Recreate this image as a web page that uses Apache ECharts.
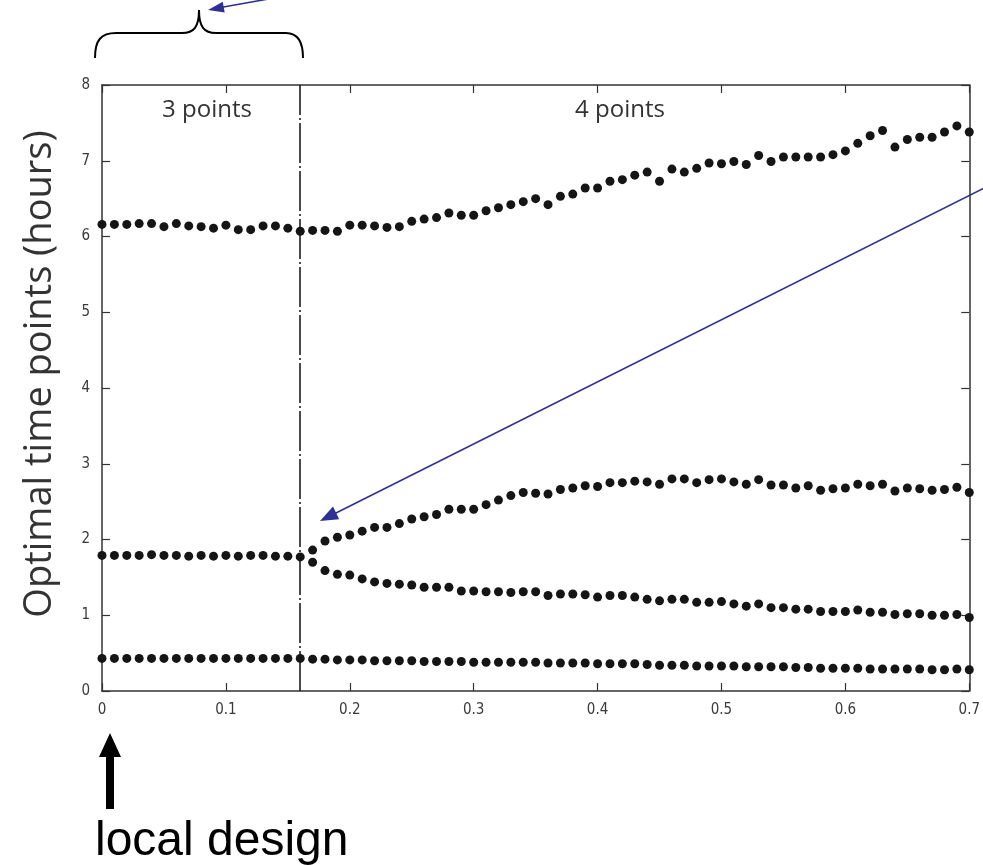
<!DOCTYPE html>
<html>
<head>
<meta charset="utf-8">
<script src="https://cdn.jsdelivr.net/npm/echarts@6/dist/echarts.min.js"></script>
<style>
html,body{margin:0;padding:0;background:#fff;}
#chart{width:983px;height:865px;}
</style>
</head>
<body>
<div id="chart"></div>
<script>
// x positions (fraction)
var xValues = [0,0.01,0.02,0.03,0.04,0.05,0.06,0.07,0.08,0.09,
  0.10,0.11,0.12,0.13,0.14,0.15,0.16,0.17,0.18,0.19,
  0.20,0.21,0.22,0.23,0.24,0.25,0.26,0.27,0.28,0.29,
  0.30,0.31,0.32,0.33,0.34,0.35,0.36,0.37,0.38,0.39,
  0.40,0.41,0.42,0.43,0.44,0.45,0.46,0.47,0.48,0.49,
  0.50,0.51,0.52,0.53,0.54,0.55,0.56,0.57,0.58,0.59,
  0.60,0.61,0.62,0.63,0.64,0.65,0.66,0.67,0.68,0.69,0.70];

// highest time point (hours)
var topSeries = [6.16,6.16,6.16,6.17,6.17,6.13,6.17,6.14,6.13,6.11,
  6.15,6.09,6.09,6.14,6.14,6.11,6.07,6.08,6.08,6.07,
  6.15,6.15,6.14,6.12,6.13,6.20,6.23,6.25,6.31,6.28,
  6.28,6.34,6.38,6.42,6.46,6.50,6.42,6.53,6.56,6.64,
  6.64,6.73,6.75,6.81,6.85,6.73,6.89,6.85,6.90,6.97,
  6.96,6.99,6.95,7.07,6.99,7.05,7.05,7.05,7.05,7.08,
  7.13,7.23,7.33,7.40,7.18,7.28,7.31,7.31,7.38,7.46,7.38];

// middle point, then upper branch after the split
var midUpperSeries = [1.79,1.79,1.79,1.79,1.80,1.79,1.79,1.78,1.79,1.78,
  1.79,1.78,1.79,1.79,1.78,1.78,1.77,1.86,1.98,2.03,
  2.06,2.11,2.16,2.16,2.21,2.27,2.30,2.33,2.40,2.40,
  2.40,2.46,2.52,2.58,2.62,2.61,2.60,2.66,2.68,2.71,
  2.70,2.75,2.75,2.77,2.76,2.73,2.80,2.80,2.75,2.79,
  2.80,2.76,2.73,2.79,2.72,2.72,2.68,2.71,2.65,2.67,
  2.68,2.73,2.71,2.73,2.64,2.68,2.67,2.65,2.66,2.69,2.62];

// lower branch (only exists with 4 points)
var midLowerSeries = [null,null,null,null,null,null,null,null,null,null,
  null,null,null,null,null,null,null,1.70,1.59,1.54,
  1.53,1.48,1.44,1.42,1.41,1.40,1.37,1.37,1.37,1.32,
  1.32,1.31,1.31,1.30,1.31,1.31,1.26,1.28,1.28,1.27,
  1.24,1.26,1.26,1.24,1.21,1.19,1.21,1.21,1.17,1.17,
  1.18,1.15,1.12,1.15,1.10,1.10,1.08,1.08,1.05,1.05,
  1.05,1.07,1.04,1.04,1.01,1.02,1.02,1.00,1.00,1.01,0.97];

// earliest time point
var bottomSeries = [0.43,0.43,0.43,0.43,0.43,0.43,0.43,0.43,0.43,0.43,
  0.43,0.43,0.43,0.43,0.43,0.43,0.43,0.42,0.42,0.41,
  0.41,0.41,0.40,0.40,0.40,0.40,0.39,0.39,0.39,0.39,
  0.38,0.38,0.38,0.38,0.38,0.38,0.37,0.37,0.37,0.37,
  0.36,0.36,0.36,0.36,0.35,0.34,0.34,0.34,0.33,0.33,
  0.33,0.33,0.32,0.32,0.32,0.32,0.31,0.31,0.30,0.30,
  0.30,0.30,0.29,0.29,0.29,0.29,0.29,0.28,0.28,0.29,0.28];

var xTickLabels = ['0','0.1','0.2','0.3','0.4','0.5','0.6','0.7'];
var yTickLabels = ['0','1','2','3','4','5','6','7','8'];
var switchPoint = [0.1645];
var regionLabels = ['3 points','4 points'];
var yTitle = 'Optimal time points (hours)';
var bottomNote = 'local design';

function pairs(vals){
  var out = [];
  for (var i = 0; i < xValues.length; i++) {
    if (vals[i] !== null) out.push([xValues[i], vals[i]]);
  }
  return out;
}

var axisColor = '#333';
var tickFont = {fontFamily:'Liberation Sans Narrow, DejaVu Sans Condensed, sans-serif', fontSize:15, color:'#3a3a3a'};
var dotStyle = {color:'#151515', opacity:1};
var blue = '#2f3192';
var braceStyle = {fill:null, stroke:'#000', lineWidth:2};

var chart = echarts.init(document.getElementById('chart'), null, {renderer:'canvas'});

chart.setOption({
  animation:false,
  backgroundColor:'#fff',
  grid:{left:102, right:12, top:85, bottom:174},
  xAxis:[{
    type:'value', min:0, max:0.7, interval:0.1, position:'bottom',
    axisLine:{show:true, onZero:false, lineStyle:{color:axisColor, width:1.5}},
    axisTick:{show:true, inside:true, length:8, lineStyle:{color:axisColor, width:1.2}},
    axisLabel:Object.assign({margin:12, formatter:function(v){return xTickLabels[Math.round(v*10)];}}, tickFont),
    splitLine:{show:false}
  },{
    type:'value', min:0, max:0.7, interval:0.1, position:'top',
    axisLine:{show:true, onZero:false, lineStyle:{color:axisColor, width:1.5}},
    axisTick:{show:true, inside:true, length:8, lineStyle:{color:axisColor, width:1.2}},
    axisLabel:{show:false}, splitLine:{show:false}
  }],
  yAxis:[{
    type:'value', min:0, max:8, interval:1, position:'left',
    axisLine:{show:true, onZero:false, lineStyle:{color:axisColor, width:1.5}},
    axisTick:{show:true, inside:true, length:8, lineStyle:{color:axisColor, width:1.2}},
    axisLabel:Object.assign({margin:12, formatter:function(v){return yTickLabels[Math.round(v)];}}, tickFont),
    splitLine:{show:false}
  },{
    type:'value', min:0, max:8, interval:1, position:'right',
    axisLine:{show:true, onZero:false, lineStyle:{color:axisColor, width:1.5}},
    axisTick:{show:true, inside:true, length:8, lineStyle:{color:axisColor, width:1.2}},
    axisLabel:{show:false}, splitLine:{show:false}
  }],
  series:[
    {type:'scatter', name:'t4', data:pairs(topSeries), symbolSize:9, itemStyle:dotStyle, clip:false, z:3,
      markLine:{silent:true, symbol:['none','none'], label:{show:false}, z:2,
        lineStyle:{color:'#111', width:1.5, type:[40,3,2,3], opacity:1},
        data:[{xAxis:switchPoint[0]}]}},
    {type:'scatter', name:'t3', data:pairs(midUpperSeries), symbolSize:9, itemStyle:dotStyle, clip:false, z:3},
    {type:'scatter', name:'t2', data:pairs(midLowerSeries), symbolSize:9, itemStyle:dotStyle, clip:false, z:3},
    {type:'scatter', name:'t1', data:pairs(bottomSeries), symbolSize:9, itemStyle:dotStyle, clip:false, z:3}
  ],
  graphic:[
    {type:'text', x:207, y:110, style:{text:regionLabels[0], font:'24px "Open Sans", "Noto Sans", sans-serif', fill:'#333', align:'center', verticalAlign:'middle'}},
    {type:'text', x:620, y:110, style:{text:regionLabels[1], font:'24px "Open Sans", "Noto Sans", sans-serif', fill:'#333', align:'center', verticalAlign:'middle'}},
    {type:'text', x:40, y:374, rotation:Math.PI/2, style:{text:yTitle, font:'38px "Open Sans", "Noto Sans", sans-serif', fill:'#333', align:'center', verticalAlign:'middle'}},
    {type:'text', x:95, y:842, style:{text:bottomNote, font:'48px "Liberation Sans", Arial, sans-serif', fill:'#000', align:'left', verticalAlign:'middle'}},
    {type:'bezierCurve', shape:{x1:95, y1:58, cpx1:95, cpy1:40, cpx2:101, cpy2:33, x2:116, y2:33}, style:braceStyle},
    {type:'line', shape:{x1:116, y1:33, x2:182, y2:33}, style:braceStyle},
    {type:'bezierCurve', shape:{x1:182, y1:33, cpx1:194, cpy1:33, cpx2:199, cpy2:27, x2:199, y2:10}, style:braceStyle},
    {type:'bezierCurve', shape:{x1:199, y1:10, cpx1:199, cpy1:27, cpx2:204, cpy2:33, x2:216, y2:33}, style:braceStyle},
    {type:'line', shape:{x1:216, y1:33, x2:286, y2:33}, style:braceStyle},
    {type:'bezierCurve', shape:{x1:286, y1:33, cpx1:297, cpy1:33, cpx2:303, cpy2:40, x2:303, y2:58}, style:braceStyle},
    {type:'line', shape:{x1:222, y1:7.3, x2:300, y2:-6.7}, style:{stroke:blue, lineWidth:1.6}},
    {type:'polygon', shape:{points:[[208,10],[224.7,12.6],[222.7,1.8]]}, style:{fill:blue}},
    {type:'line', shape:{x1:335, y1:513.5, x2:1000, y2:180}, style:{stroke:blue, lineWidth:1.6}},
    {type:'polygon', shape:{points:[[320,521],[339.2,519.2],[333.0,506.6]]}, style:{fill:blue}},
    {type:'polygon', shape:{points:[[110,733],[99,757],[106,757],[106,809],[114,809],[114,757],[121,757]]}, style:{fill:'#000'}}
  ]
});
</script>
</body>
</html>
